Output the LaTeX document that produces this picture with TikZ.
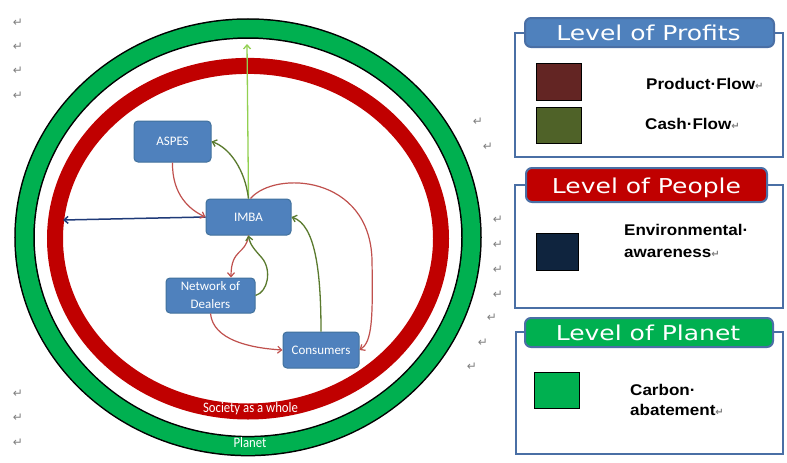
\documentclass[tikz,border=0pt]{standalone}
\usepackage{fontspec}
\setmainfont{Carlito}
\newfontfamily\legendfont{Liberation Sans}
\newfontfamily\titlefont{DejaVu Sans}
\newfontfamily\markfont{DejaVu Sans}
\usetikzlibrary{arrows.meta}
\definecolor{boxblue}{HTML}{4F81BD}
\definecolor{boxedge}{HTML}{41719C}
\definecolor{ringred}{HTML}{C00000}
\definecolor{ringgreen}{HTML}{00B050}
\definecolor{prodred}{HTML}{C0504D}
\definecolor{cashgreen}{HTML}{5A7A2E}
\definecolor{lightgreen}{HTML}{92D050}
\definecolor{navy}{HTML}{1F3A78}
\definecolor{frameblue}{HTML}{4A6FA5}
\definecolor{swprod}{HTML}{632523}
\definecolor{swcash}{HTML}{4F6228}
\definecolor{swenv}{HTML}{0F243E}
\definecolor{markgray}{HTML}{808080}
\tikzset{
  flowbox/.style={draw=boxedge, line width=1pt, fill=boxblue, rounded corners=4pt,
    text=white, inner sep=0pt, align=center, font=\fontsize{13}{18}\selectfont},
  tip/.style={-{Straight Barb[length=4pt,width=7pt]}},
  prodline/.style={prodred, line width=1.2pt, tip},
  cashline/.style={cashgreen, line width=1.3pt, tip},
  panelframe/.style={draw=frameblue, line width=1.8pt},
  tabbox/.style={draw=frameblue, line width=2pt, rounded corners=6pt},
  tabtext/.style={text=white, anchor=base, inner sep=0pt, font=\titlefont\fontsize{20.5}{24}\selectfont},
  swatch/.style={draw=black, line width=1pt},
  legtext/.style={anchor=base west, inner sep=0pt, text=black, font=\legendfont\bfseries\fontsize{15.5}{20}\selectfont},
  pmark/.style={text=markgray, inner sep=0pt, font=\markfont\fontsize{12}{12}\selectfont},
  ringlabel/.style={text=white, inner sep=0pt, font=\fontsize{14.5}{16}\selectfont}
}
\newcommand{\rmark}{{\markfont\color{markgray}\fontsize{10}{10}\selectfont ↵}}
\newcommand{\wide}[1]{\scalebox{1.1}[1]{#1}}
\newcommand{\tabwide}[1]{\scalebox{1.22}[1]{#1}}
\newcommand{\narrow}[1]{\scalebox{0.88}[1]{#1}}
\begin{document}
\begin{tikzpicture}[x=1pt,y=-1pt]
\useasboundingbox (0,0) rectangle (787,463);
\fill[white] (0,0) rectangle (787,463);

% rings
\draw[black, line width=20.5pt] (248,237.3) ellipse [x radius=223.5, y radius=208.8];
\draw[ringgreen, line width=17.5pt] (248,237.3) ellipse [x radius=223.5, y radius=208.8];
\draw[ringred, line width=16pt] (248,238.7) ellipse [x radius=193, y radius=172.8];
\node[ringlabel] (society) at (250.5,409) {\narrow{Society as a whole}};
\node[ringlabel] (planet) at (250,443) {\narrow{Planet}};

% nodes
\node[flowbox, minimum width=77pt, minimum height=41pt] (aspes) at (172.5,141.5) {ASPES};
\node[flowbox, minimum width=85pt, minimum height=36pt] (imba) at (248.5,217) {IMBA};
\node[flowbox, minimum width=89pt, minimum height=35pt] (dealers) at (210.5,295.5) {Network of\\Dealers};
\node[flowbox, minimum width=76pt, minimum height=36pt] (consumers) at (321,350) {Consumers};

\coordinate (topend) at (247,44);
\coordinate (leftend) at (63,220);

% connectors
\draw[lightgreen, line width=1.3pt, tip] (imba.north) -- (topend);
\draw[navy, line width=1.5pt, tip] (imba.west) -- (leftend);
\draw[prodline] (aspes.south) .. controls (172,195) and (190,210) .. (imba.west);
\draw[cashline] (imba.north) .. controls (245,170) and (230,148) .. (aspes.east);
\draw[prodline] ([xshift=2pt]imba.north) .. controls (275,170) and (370,175) .. (372,260)
  .. controls (373,320) and (372,342) .. (consumers.east);
\draw[prodline] (imba.south) .. controls (246,255) and (231,248) .. (231,0 |- dealers.north);
\draw[cashline] (dealers.east) .. controls (268,292) and (272,270) .. (262,258)
  .. controls (255,250) and (250,245) .. (imba.south);
\draw[prodline] (dealers.south) .. controls (213,340) and (250,348) .. (consumers.west);
\draw[cashline] (consumers.north) .. controls (321,270) and (315,225) .. (imba.east);

% legend panel 1
\draw[panelframe] (515,33) rectangle (783,157);
\draw[tabbox, fill=boxblue] (525,18) rectangle (774,47);
\node[tabtext] (t1) at (648.5,40) {\tabwide{Level of Profits}};
\draw[swatch, fill=swprod] (536,63) rectangle (581,100);
\draw[swatch, fill=swcash] (536,107) rectangle (581,143);
\node[legtext] (l1) at (646,89) {\wide{Product·Flow}\rmark};
\node[legtext] (l2) at (645,129) {\wide{Cash·Flow}\rmark};

% legend panel 2
\draw[panelframe] (515,185) rectangle (783,308);
\draw[tabbox, fill=ringred] (526,168) rectangle (767,202);
\node[tabtext] (t2) at (646.5,193) {\tabwide{Level of People}};
\draw[swatch, fill=swenv] (536,233) rectangle (578,270);
\node[legtext] (l3) at (624,235) {\wide{Environmental·}};
\node[legtext] (l4) at (624,257) {\wide{awareness}\rmark};

% legend panel 3
\draw[panelframe] (516,332) rectangle (783,454);
\draw[tabbox, fill=ringgreen] (525,318) rectangle (773,347);
\node[tabtext] (t3) at (648,340) {\tabwide{Level of Planet}};
\draw[swatch, fill=ringgreen] (534,372) rectangle (579,408);
\node[legtext] (l5) at (630,395) {\wide{Carbon·}};
\node[legtext] (l6) at (630,415) {\wide{abatement}\rmark};

% paragraph marks
\foreach \mx/\my [count=\i] in {18/23, 18/47, 18/71, 18/96, 18/394, 18/418, 18/443,
  478/122, 488/147, 498/220, 498/245, 498/270, 498/295, 492/318, 483/343, 472/367}
  \node[pmark] (pm\i) at (\mx,\my) {↵};
\end{tikzpicture}
\end{document}
